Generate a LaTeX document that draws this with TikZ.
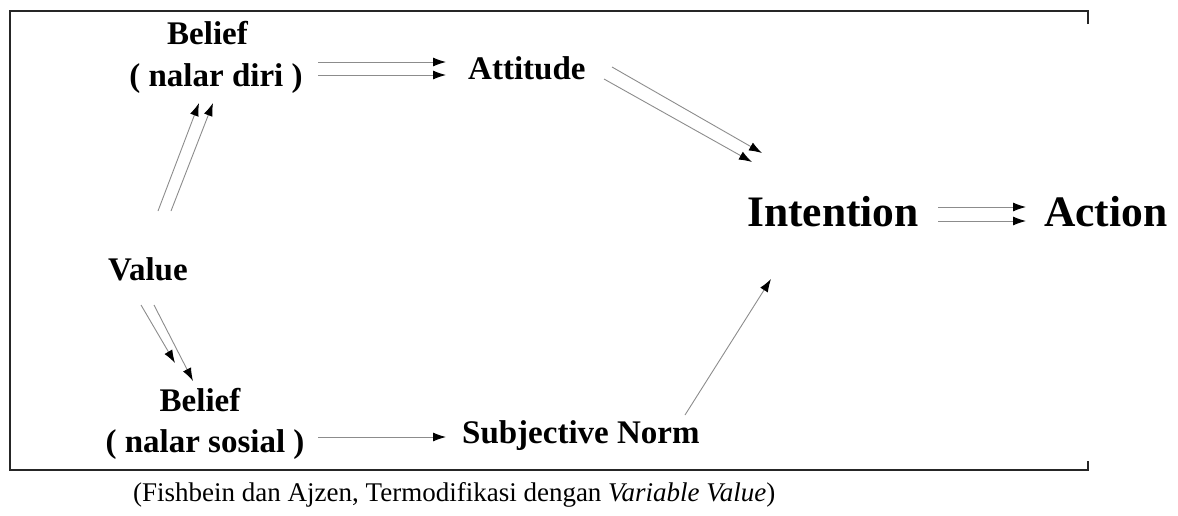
\documentclass[tikz,border=0pt]{standalone}
\usepackage{fontspec}
\setmainfont{Liberation Serif}
\usetikzlibrary{arrows.meta}
\tikzset{
  lbl/.style={inner sep=0pt, anchor=base, font=\fontsize{33}{40}\selectfont\bfseries},
  big/.style={inner sep=0pt, anchor=base, font=\fontsize{43.5}{50}\selectfont\bfseries},
  arr/.style={draw=black!45, line width=0.9pt, -{Latex[black,length=13pt,width=9pt]}},
  frame/.style={line width=2pt, draw=black!85}
}
\begin{document}
\begin{tikzpicture}[x=1pt,y=-1pt]
\useasboundingbox (0,0) rectangle (1178,515);
% frame
\draw[frame] (1088,24) -- (1088,11) -- (10,11) -- (10,470) -- (1088,470) -- (1088,461);
% nodes
\node[lbl] (belA1) at (207.5,44) {Belief};
\node[lbl] (belA2) at (216,86) {( nalar diri )};
\node[lbl,anchor=base west] (att) at (468,79) {Attitude};
\node[lbl,anchor=base west] (val) at (108,280) {Value};
\node[lbl] (belB1) at (200,411) {Belief};
\node[lbl] (belB2) at (205,452) {( nalar sosial )};
\node[lbl,anchor=base west] (sn) at (462,443) {Subjective Norm};
\node[big,anchor=base west] (int) at (747,226) {Intention};
\node[big,anchor=base west] (act) at (1044,226) {Action};
\node[inner sep=0pt, anchor=base west, font=\fontsize{27}{32}\selectfont] (cap) at (133,501) {(Fishbein dan Ajzen, Termodifikasi dengan \textit{Variable Value})};
% connector end points
\coordinate (a1s) at (318,62);  \coordinate (a1e) at (446,62);
\coordinate (a2s) at (318,75);  \coordinate (a2e) at (446,75);
\coordinate (v1s) at (158,211); \coordinate (v1e) at (199,103);
\coordinate (v2s) at (171,211); \coordinate (v2e) at (213,103);
\coordinate (w1s) at (141,305); \coordinate (w1e) at (175,363);
\coordinate (w2s) at (154,305); \coordinate (w2e) at (193,381);
\coordinate (t1s) at (612,67);  \coordinate (t1e) at (762,153);
\coordinate (t2s) at (604,79);  \coordinate (t2e) at (752,162);
\coordinate (i1s) at (938,207); \coordinate (i1e) at (1026,207);
\coordinate (i2s) at (938,221); \coordinate (i2e) at (1026,221);
\coordinate (bss) at (318,437); \coordinate (bse) at (446,437);
\coordinate (sns) at (685,415); \coordinate (sne) at (771,279);
% connectors
\draw[arr] (a1s) -- (a1e);
\draw[arr] (a2s) -- (a2e);
\draw[arr] (v1s) -- (v1e);
\draw[arr] (v2s) -- (v2e);
\draw[arr] (w1s) -- (w1e);
\draw[arr] (w2s) -- (w2e);
\draw[arr] (t1s) -- (t1e);
\draw[arr] (t2s) -- (t2e);
\draw[arr] (i1s) -- (i1e);
\draw[arr] (i2s) -- (i2e);
\draw[arr] (bss) -- (bse);
\draw[arr] (sns) -- (sne);
\end{tikzpicture}
\end{document}
